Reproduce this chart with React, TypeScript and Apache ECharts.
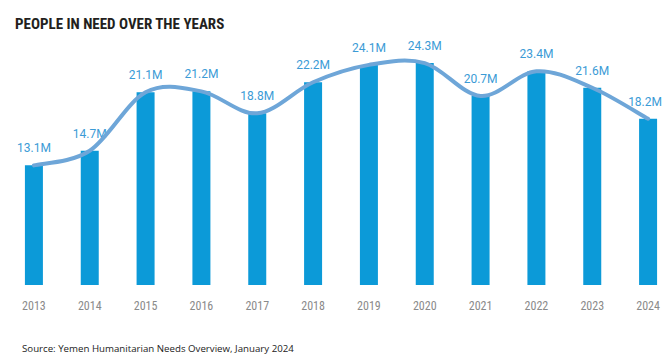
import React, { useEffect, useRef } from "react";
import * as echarts from "echarts";

const years = ["2013", "2014", "2015", "2016", "2017", "2018", "2019", "2020", "2021", "2022", "2023", "2024"];
const peopleInNeed = [13.1, 14.7, 21.1, 21.2, 18.8, 22.2, 24.1, 24.3, 20.7, 23.4, 21.6, 18.2];
const titleText = "PEOPLE IN NEED OVER THE YEARS";
const sourceText = "Source: Yemen Humanitarian Needs Overview, January 2024";

export default function App() {
  const ref = useRef<HTMLDivElement>(null);
  useEffect(() => {
    if (!ref.current) return;
    const chart = echarts.init(ref.current, null, { renderer: "svg" });
    chart.setOption({
      animation: false,
      backgroundColor: "#ffffff",
      title: {
        text: titleText,
        left: 10,
        top: 11,
        textStyle: {
          fontFamily: "'Liberation Sans Narrow', 'Roboto Condensed', Roboto, sans-serif",
          fontWeight: "bold",
          fontSize: 15,
          color: "#231f20",
        },
      },
      graphic: [
        {
          type: "text",
          left: 22,
          top: 343,
          style: {
            text: sourceText,
            fontFamily: "'Open Sans', sans-serif",
            fontSize: 9.7,
            fill: "#222222",
          },
        },
      ],
      grid: { left: 6, width: 670, top: 11, bottom: 71 },
      xAxis: {
        type: "category",
        data: years,
        axisLine: { show: false },
        axisTick: { show: false },
        axisLabel: {
          margin: 15,
          fontFamily: "'Liberation Sans Narrow', 'Roboto Condensed', Roboto, sans-serif",
          fontSize: 12,
          color: "#8a8a8a",
        },
      },
      yAxis: {
        type: "value",
        min: 0,
        max: 30,
        show: false,
        splitLine: { show: false },
      },
      series: [
        {
          type: "bar",
          data: peopleInNeed,
          barWidth: 18,
          itemStyle: { color: "#0c9ad8" },
          label: {
            show: true,
            position: "top",
            distance: 11,
            formatter: (p: any) => p.value + "M",
            fontFamily: "Roboto, sans-serif",
            fontSize: 12,
            color: "#3b9bd6",
          },
          labelLayout: (p: any) => {
            const r = p.labelRect;
            const overflow = r.x + r.width - 662;
            return overflow > 0 ? { dx: -overflow } : {};
          },
          z: 2,
        },
        {
          type: "custom",
          data: [0],
          z: 3,
          renderItem: (params: any, api: any) => {
            const pts = peopleInNeed.map((v, i) => api.coord([i, v]));
            const n = pts.length;
            let d = `M${pts[0][0]},${pts[0][1]}`;
            for (let i = 0; i < n - 1; i++) {
              const p0 = pts[Math.max(0, i - 1)];
              const p1 = pts[i];
              const p2 = pts[i + 1];
              const p3 = pts[Math.min(n - 1, i + 2)];
              const c1x = p1[0] + (p2[0] - p0[0]) / 6;
              const c1y = p1[1] + (p2[1] - p0[1]) / 6;
              const c2x = p2[0] - (p3[0] - p1[0]) / 6;
              const c2y = p2[1] - (p3[1] - p1[1]) / 6;
              d += ` C${c1x},${c1y} ${c2x},${c2y} ${p2[0]},${p2[1]}`;
            }
            return {
              type: "path",
              shape: { pathData: d },
              style: { fill: "none", stroke: "#6ea6d8", lineWidth: 4, lineCap: "round" },
            };
          },
        },
      ],
    });
    return () => chart.dispose();
  }, []);
  return (
    <div style={{ position: "fixed", left: 0, top: 0, width: 663, height: 356, overflow: "hidden", background: "#fff" }}>
      <div ref={ref} style={{ width: 680, height: 356 }} />
    </div>
  );
}
